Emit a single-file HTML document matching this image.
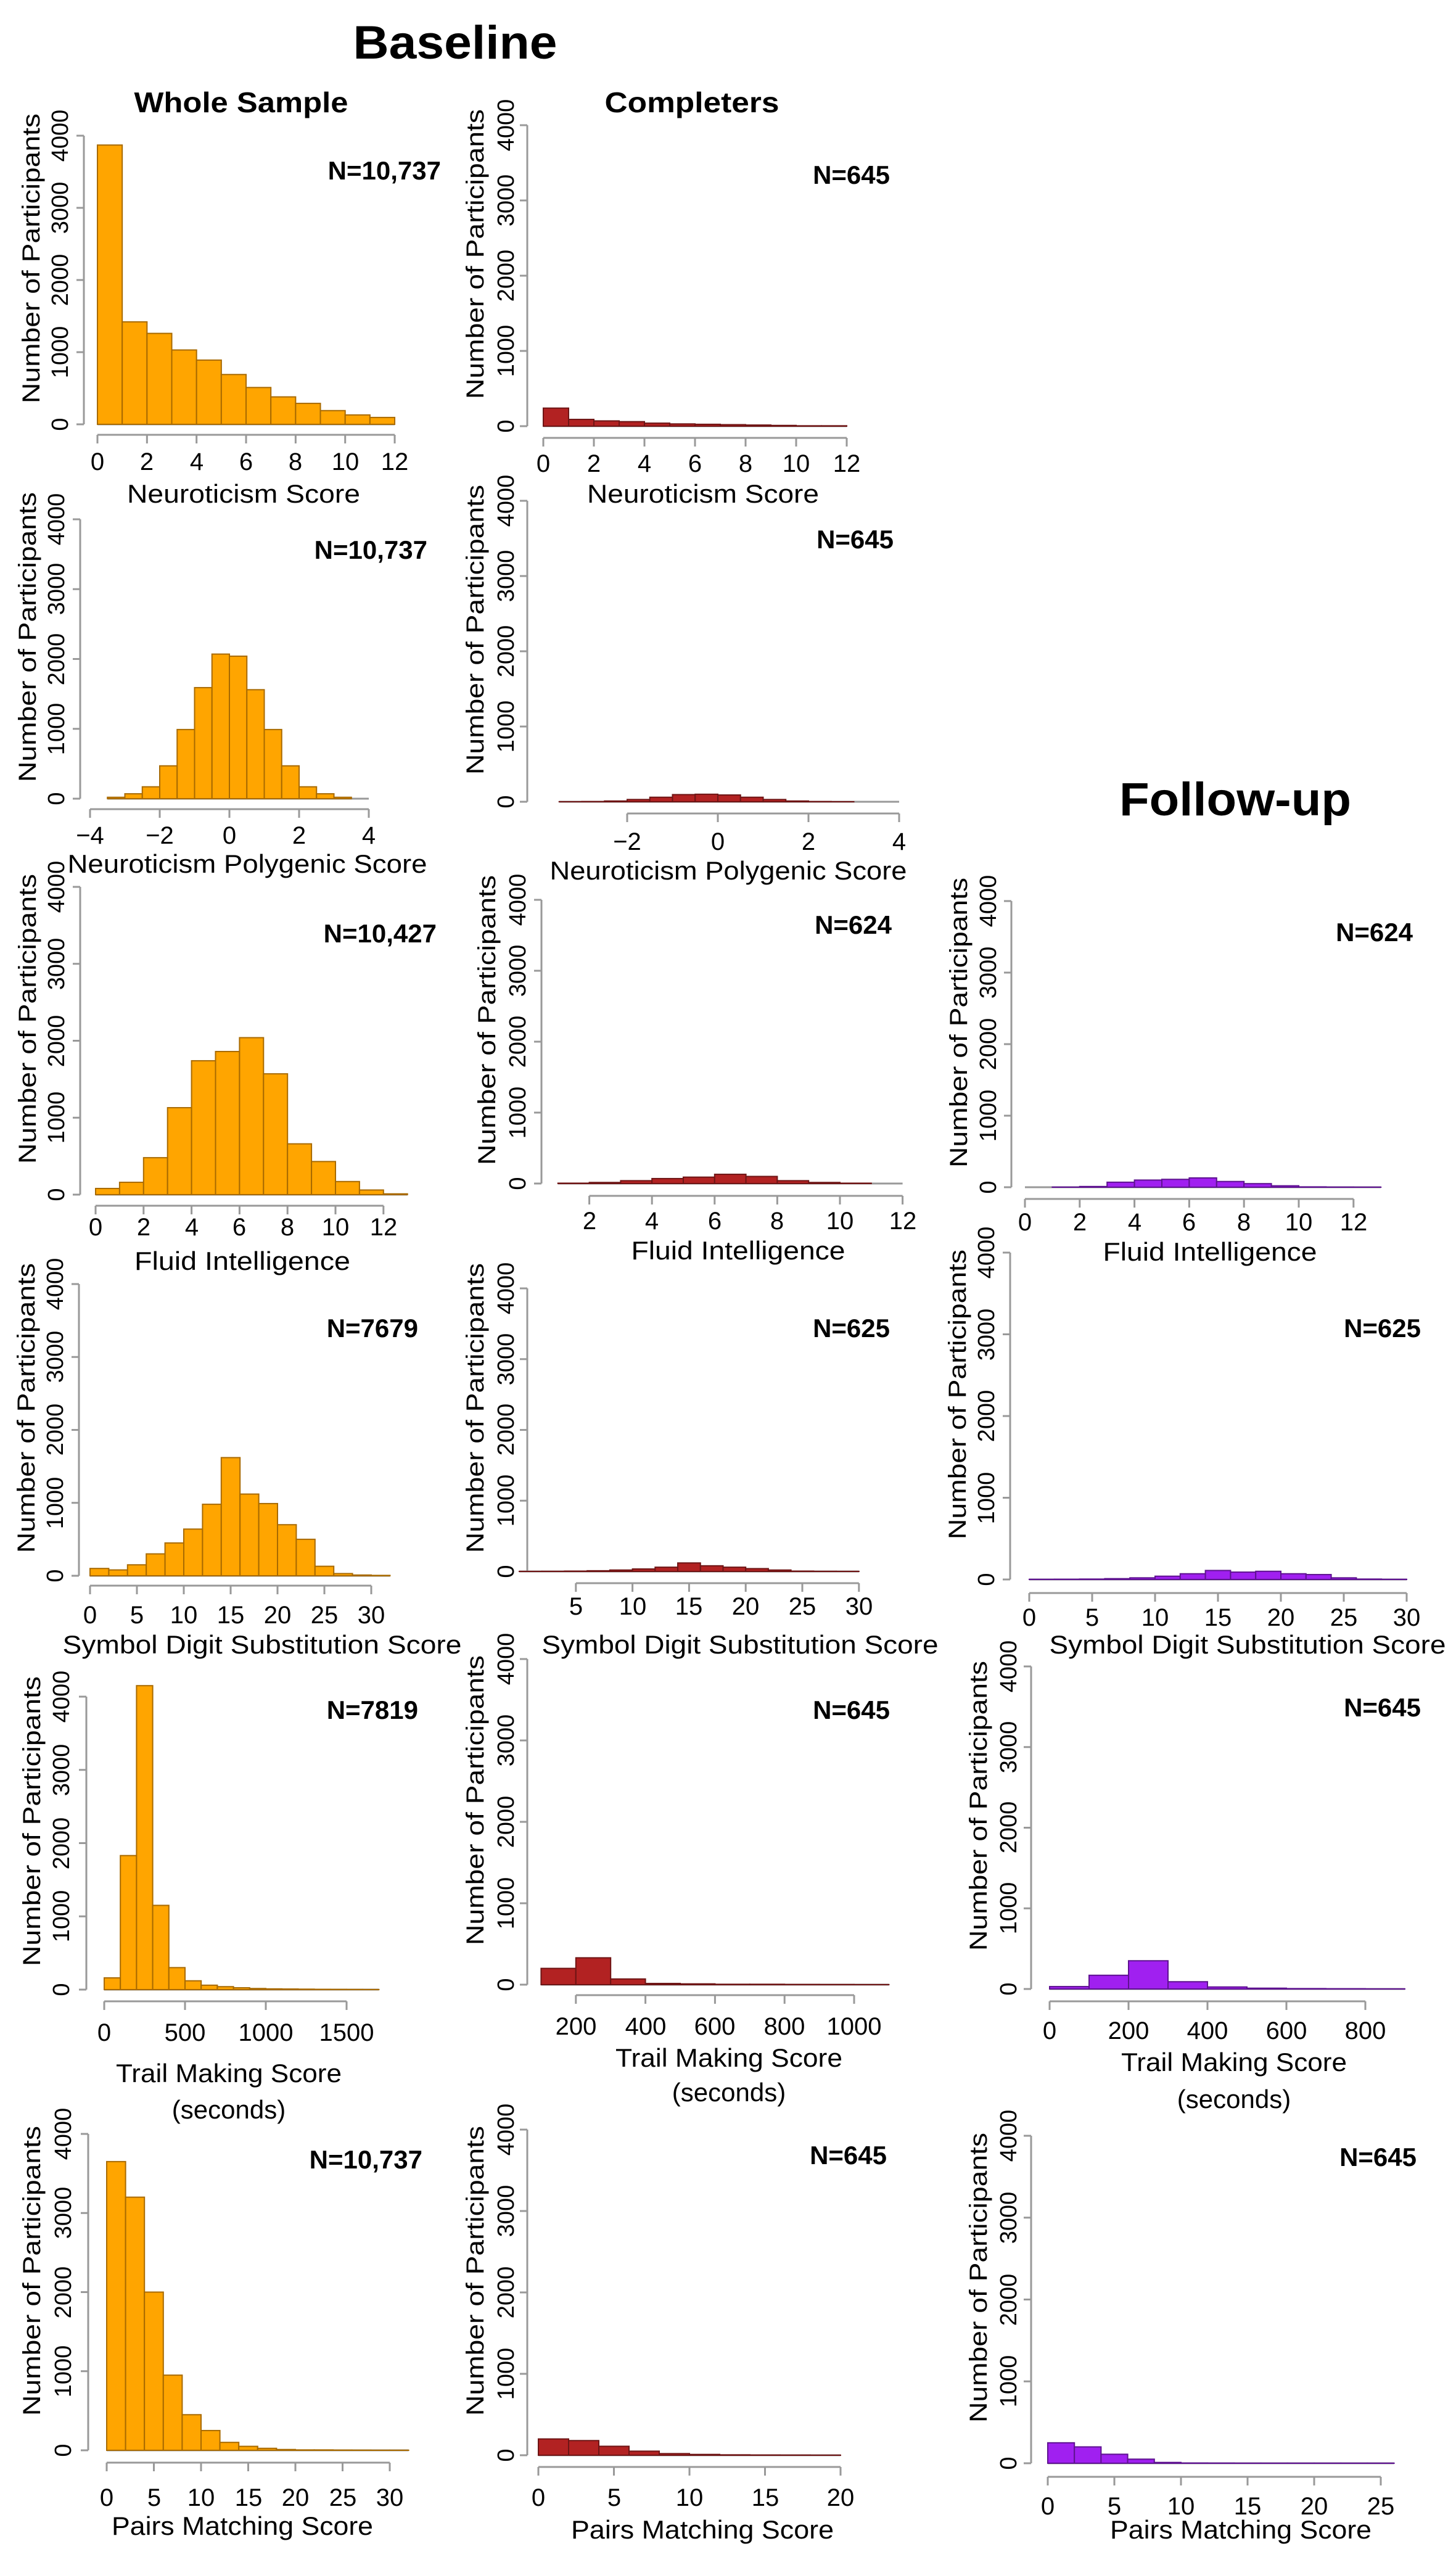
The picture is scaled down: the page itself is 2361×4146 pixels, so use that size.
<!DOCTYPE html>
<html><head><meta charset="utf-8"><style>
html,body{margin:0;padding:0;background:#fff}
svg{display:block}
text{font-family:"Liberation Sans",sans-serif;fill:#000}
.yt{font-size:38px;text-anchor:middle;dominant-baseline:central}
.xt{font-size:40px;text-anchor:middle}
.xl{font-size:42px;text-anchor:middle}
.yl{font-size:40px;text-anchor:middle;dominant-baseline:central}
.n{font-size:42px;font-weight:bold;text-anchor:end}
.t{font-weight:bold;text-anchor:middle}
</style></head><body>
<svg id="s" width="2361" height="4146" viewBox="0 0 2361 4146" xmlns="http://www.w3.org/2000/svg">
<g id="g"></g>
<text class="t" x="738" y="95" font-size="76" textLength="331" lengthAdjust="spacingAndGlyphs">Baseline</text>
<text class="t" x="391" y="182" font-size="46" textLength="347" lengthAdjust="spacingAndGlyphs">Whole Sample</text>
<text class="t" x="1122" y="182" font-size="46" textLength="283" lengthAdjust="spacingAndGlyphs">Completers</text>
<text class="t" x="2003" y="1322" font-size="76" textLength="376" lengthAdjust="spacingAndGlyphs">Follow-up</text>

<!-- P1 -->
<text class="yl" transform="translate(51,419) rotate(-90)" textLength="470" lengthAdjust="spacingAndGlyphs">Number of Participants</text>
<text class="yt" transform="translate(98,688) rotate(-90)">0</text><text class="yt" transform="translate(98,571) rotate(-90)">1000</text><text class="yt" transform="translate(98,454) rotate(-90)">2000</text><text class="yt" transform="translate(98,337) rotate(-90)">3000</text><text class="yt" transform="translate(98,220) rotate(-90)">4000</text>
<text class="xt" x="158" y="762">0</text><text class="xt" x="238" y="762">2</text><text class="xt" x="319" y="762">4</text><text class="xt" x="399" y="762">6</text><text class="xt" x="479" y="762">8</text><text class="xt" x="560" y="762">10</text><text class="xt" x="640" y="762">12</text>
<text class="xl" x="395" y="815" textLength="378" lengthAdjust="spacingAndGlyphs">Neuroticism Score</text>
<text class="n" x="715" y="291">N=10,737</text>
<!-- P2 -->
<text class="yl" transform="translate(771,412) rotate(-90)" textLength="470" lengthAdjust="spacingAndGlyphs">Number of Participants</text>
<text class="yt" transform="translate(821,691) rotate(-90)">0</text><text class="yt" transform="translate(821,569) rotate(-90)">1000</text><text class="yt" transform="translate(821,447) rotate(-90)">2000</text><text class="yt" transform="translate(821,325) rotate(-90)">3000</text><text class="yt" transform="translate(821,203) rotate(-90)">4000</text>
<text class="xt" x="881" y="765">0</text><text class="xt" x="963" y="765">2</text><text class="xt" x="1045" y="765">4</text><text class="xt" x="1127" y="765">6</text><text class="xt" x="1209" y="765">8</text><text class="xt" x="1291" y="765">10</text><text class="xt" x="1373" y="765">12</text>
<text class="xl" x="1140" y="815" textLength="376" lengthAdjust="spacingAndGlyphs">Neuroticism Score</text>
<text class="n" x="1443" y="298">N=645</text>
<!-- P3 -->
<text class="yl" transform="translate(45,1033) rotate(-90)" textLength="470" lengthAdjust="spacingAndGlyphs">Number of Participants</text>
<text class="yt" transform="translate(92,1295) rotate(-90)">0</text><text class="yt" transform="translate(92,1182) rotate(-90)">1000</text><text class="yt" transform="translate(92,1069) rotate(-90)">2000</text><text class="yt" transform="translate(92,955) rotate(-90)">3000</text><text class="yt" transform="translate(92,842) rotate(-90)">4000</text>
<text class="xt" x="146" y="1368">−4</text><text class="xt" x="259" y="1368">−2</text><text class="xt" x="372" y="1368">0</text><text class="xt" x="485" y="1368">2</text><text class="xt" x="598" y="1368">4</text>
<text class="xl" x="401" y="1415" textLength="583" lengthAdjust="spacingAndGlyphs">Neuroticism Polygenic Score</text>
<text class="n" x="693" y="906">N=10,737</text>
<!-- P4 -->
<text class="yl" transform="translate(771,1021) rotate(-90)" textLength="470" lengthAdjust="spacingAndGlyphs">Number of Participants</text>
<text class="yt" transform="translate(821,1300) rotate(-90)">0</text><text class="yt" transform="translate(821,1178) rotate(-90)">1000</text><text class="yt" transform="translate(821,1056) rotate(-90)">2000</text><text class="yt" transform="translate(821,934) rotate(-90)">3000</text><text class="yt" transform="translate(821,812) rotate(-90)">4000</text>
<text class="xt" x="1017" y="1378">−2</text><text class="xt" x="1164" y="1378">0</text><text class="xt" x="1311" y="1378">2</text><text class="xt" x="1458" y="1378">4</text>
<text class="xl" x="1181" y="1426" textLength="579" lengthAdjust="spacingAndGlyphs">Neuroticism Polygenic Score</text>
<text class="n" x="1449" y="889">N=645</text>
<!-- P5 -->
<text class="yl" transform="translate(45,1652) rotate(-90)" textLength="470" lengthAdjust="spacingAndGlyphs">Number of Participants</text>
<text class="yt" transform="translate(92,1937) rotate(-90)">0</text><text class="yt" transform="translate(92,1812) rotate(-90)">1000</text><text class="yt" transform="translate(92,1688) rotate(-90)">2000</text><text class="yt" transform="translate(92,1563) rotate(-90)">3000</text><text class="yt" transform="translate(92,1438) rotate(-90)">4000</text>
<text class="xt" x="155" y="2003">0</text><text class="xt" x="233" y="2003">2</text><text class="xt" x="311" y="2003">4</text><text class="xt" x="388" y="2003">6</text><text class="xt" x="466" y="2003">8</text><text class="xt" x="544" y="2003">10</text><text class="xt" x="622" y="2003">12</text>
<text class="xl" x="393" y="2059" textLength="350" lengthAdjust="spacingAndGlyphs">Fluid Intelligence</text>
<text class="n" x="708" y="1528">N=10,427</text>
<!-- P6 -->
<text class="yl" transform="translate(790,1654) rotate(-90)" textLength="470" lengthAdjust="spacingAndGlyphs">Number of Participants</text>
<text class="yt" transform="translate(840,1919) rotate(-90)">0</text><text class="yt" transform="translate(840,1804) rotate(-90)">1000</text><text class="yt" transform="translate(840,1689) rotate(-90)">2000</text><text class="yt" transform="translate(840,1574) rotate(-90)">3000</text><text class="yt" transform="translate(840,1459) rotate(-90)">4000</text>
<text class="xt" x="956" y="1993">2</text><text class="xt" x="1057" y="1993">4</text><text class="xt" x="1159" y="1993">6</text><text class="xt" x="1260" y="1993">8</text><text class="xt" x="1362" y="1993">10</text><text class="xt" x="1464" y="1993">12</text>
<text class="xl" x="1197" y="2042" textLength="347" lengthAdjust="spacingAndGlyphs">Fluid Intelligence</text>
<text class="n" x="1446" y="1514">N=624</text>
<!-- P7 -->
<text class="yl" transform="translate(1555,1658) rotate(-90)" textLength="470" lengthAdjust="spacingAndGlyphs">Number of Participants</text>
<text class="yt" transform="translate(1603,1925) rotate(-90)">0</text><text class="yt" transform="translate(1603,1809) rotate(-90)">1000</text><text class="yt" transform="translate(1603,1693) rotate(-90)">2000</text><text class="yt" transform="translate(1603,1577) rotate(-90)">3000</text><text class="yt" transform="translate(1603,1461) rotate(-90)">4000</text>
<text class="xt" x="1662" y="1995">0</text><text class="xt" x="1751" y="1995">2</text><text class="xt" x="1840" y="1995">4</text><text class="xt" x="1928" y="1995">6</text><text class="xt" x="2017" y="1995">8</text><text class="xt" x="2106" y="1995">10</text><text class="xt" x="2195" y="1995">12</text>
<text class="xl" x="1962" y="2044" textLength="347" lengthAdjust="spacingAndGlyphs">Fluid Intelligence</text>
<text class="n" x="2291" y="1526">N=624</text>
<!-- P8 -->
<text class="yl" transform="translate(43,2283) rotate(-90)" textLength="470" lengthAdjust="spacingAndGlyphs">Number of Participants</text>
<text class="yt" transform="translate(90,2555) rotate(-90)">0</text><text class="yt" transform="translate(90,2437) rotate(-90)">1000</text><text class="yt" transform="translate(90,2318) rotate(-90)">2000</text><text class="yt" transform="translate(90,2200) rotate(-90)">3000</text><text class="yt" transform="translate(90,2082) rotate(-90)">4000</text>
<text class="xt" x="146" y="2632">0</text><text class="xt" x="222" y="2632">5</text><text class="xt" x="298" y="2632">10</text><text class="xt" x="374" y="2632">15</text><text class="xt" x="450" y="2632">20</text><text class="xt" x="526" y="2632">25</text><text class="xt" x="602" y="2632">30</text>
<text class="xl" x="425" y="2681" textLength="647" lengthAdjust="spacingAndGlyphs">Symbol Digit Substitution Score</text>
<text class="n" x="678" y="2168">N=7679</text>
<!-- P9 -->
<text class="yl" transform="translate(771,2283) rotate(-90)" textLength="470" lengthAdjust="spacingAndGlyphs">Number of Participants</text>
<text class="yt" transform="translate(821,2548) rotate(-90)">0</text><text class="yt" transform="translate(821,2433) rotate(-90)">1000</text><text class="yt" transform="translate(821,2318) rotate(-90)">2000</text><text class="yt" transform="translate(821,2204) rotate(-90)">3000</text><text class="yt" transform="translate(821,2089) rotate(-90)">4000</text>
<text class="xt" x="934" y="2618">5</text><text class="xt" x="1026" y="2618">10</text><text class="xt" x="1117" y="2618">15</text><text class="xt" x="1209" y="2618">20</text><text class="xt" x="1301" y="2618">25</text><text class="xt" x="1393" y="2618">30</text>
<text class="xl" x="1200" y="2681" textLength="643" lengthAdjust="spacingAndGlyphs">Symbol Digit Substitution Score</text>
<text class="n" x="1443" y="2168">N=625</text>
<!-- P10 -->
<text class="yl" transform="translate(1553,2261) rotate(-90)" textLength="470" lengthAdjust="spacingAndGlyphs">Number of Participants</text>
<text class="yt" transform="translate(1600,2561) rotate(-90)">0</text><text class="yt" transform="translate(1600,2429) rotate(-90)">1000</text><text class="yt" transform="translate(1600,2296) rotate(-90)">2000</text><text class="yt" transform="translate(1600,2164) rotate(-90)">3000</text><text class="yt" transform="translate(1600,2031) rotate(-90)">4000</text>
<text class="xt" x="1669" y="2636">0</text><text class="xt" x="1771" y="2636">5</text><text class="xt" x="1873" y="2636">10</text><text class="xt" x="1975" y="2636">15</text><text class="xt" x="2077" y="2636">20</text><text class="xt" x="2179" y="2636">25</text><text class="xt" x="2281" y="2636">30</text>
<text class="xl" x="2023" y="2681" textLength="643" lengthAdjust="spacingAndGlyphs">Symbol Digit Substitution Score</text>
<text class="n" x="2304" y="2168">N=625</text>
<!-- P11 -->
<text class="yl" transform="translate(52,2953) rotate(-90)" textLength="470" lengthAdjust="spacingAndGlyphs">Number of Participants</text>
<text class="yt" transform="translate(100,3226) rotate(-90)">0</text><text class="yt" transform="translate(100,3107) rotate(-90)">1000</text><text class="yt" transform="translate(100,2989) rotate(-90)">2000</text><text class="yt" transform="translate(100,2870) rotate(-90)">3000</text><text class="yt" transform="translate(100,2751) rotate(-90)">4000</text>
<text class="xt" x="169" y="3309">0</text><text class="xt" x="300" y="3309">500</text><text class="xt" x="431" y="3309">1000</text><text class="xt" x="562" y="3309">1500</text>
<text class="xl" x="371" y="3376" textLength="366" lengthAdjust="spacingAndGlyphs">Trail Making Score</text>
<text class="xl" x="371" y="3435">(seconds)</text>
<text class="n" x="678" y="2787">N=7819</text>
<!-- P12 -->
<text class="yl" transform="translate(771,2919) rotate(-90)" textLength="470" lengthAdjust="spacingAndGlyphs">Number of Participants</text>
<text class="yt" transform="translate(821,3218) rotate(-90)">0</text><text class="yt" transform="translate(821,3086) rotate(-90)">1000</text><text class="yt" transform="translate(821,2954) rotate(-90)">2000</text><text class="yt" transform="translate(821,2822) rotate(-90)">3000</text><text class="yt" transform="translate(821,2690) rotate(-90)">4000</text>
<text class="xt" x="934" y="3299">200</text><text class="xt" x="1047" y="3299">400</text><text class="xt" x="1159" y="3299">600</text><text class="xt" x="1272" y="3299">800</text><text class="xt" x="1385" y="3299">1000</text>
<text class="xl" x="1182" y="3351" textLength="368" lengthAdjust="spacingAndGlyphs">Trail Making Score</text>
<text class="xl" x="1182" y="3407">(seconds)</text>
<text class="n" x="1443" y="2787">N=645</text>
<!-- P13 -->
<text class="yl" transform="translate(1587,2928) rotate(-90)" textLength="470" lengthAdjust="spacingAndGlyphs">Number of Participants</text>
<text class="yt" transform="translate(1636,3225) rotate(-90)">0</text><text class="yt" transform="translate(1636,3094) rotate(-90)">1000</text><text class="yt" transform="translate(1636,2963) rotate(-90)">2000</text><text class="yt" transform="translate(1636,2833) rotate(-90)">3000</text><text class="yt" transform="translate(1636,2702) rotate(-90)">4000</text>
<text class="xt" x="1702" y="3306">0</text><text class="xt" x="1830" y="3306">200</text><text class="xt" x="1958" y="3306">400</text><text class="xt" x="2086" y="3306">600</text><text class="xt" x="2214" y="3306">800</text>
<text class="xl" x="2001" y="3358" textLength="366" lengthAdjust="spacingAndGlyphs">Trail Making Score</text>
<text class="xl" x="2001" y="3418">(seconds)</text>
<text class="n" x="2304" y="2783">N=645</text>
<!-- P14 -->
<text class="yl" transform="translate(52,3682) rotate(-90)" textLength="470" lengthAdjust="spacingAndGlyphs">Number of Participants</text>
<text class="yt" transform="translate(103,3973) rotate(-90)">0</text><text class="yt" transform="translate(103,3845) rotate(-90)">1000</text><text class="yt" transform="translate(103,3717) rotate(-90)">2000</text><text class="yt" transform="translate(103,3588) rotate(-90)">3000</text><text class="yt" transform="translate(103,3460) rotate(-90)">4000</text>
<text class="xt" x="173" y="4063">0</text><text class="xt" x="250" y="4063">5</text><text class="xt" x="326" y="4063">10</text><text class="xt" x="403" y="4063">15</text><text class="xt" x="479" y="4063">20</text><text class="xt" x="556" y="4063">25</text><text class="xt" x="632" y="4063">30</text>
<text class="xl" x="393" y="4110" textLength="424" lengthAdjust="spacingAndGlyphs">Pairs Matching Score</text>
<text class="n" x="685" y="3516">N=10,737</text>
<!-- P15 -->
<text class="yl" transform="translate(771,3682) rotate(-90)" textLength="470" lengthAdjust="spacingAndGlyphs">Number of Participants</text>
<text class="yt" transform="translate(821,3981) rotate(-90)">0</text><text class="yt" transform="translate(821,3849) rotate(-90)">1000</text><text class="yt" transform="translate(821,3717) rotate(-90)">2000</text><text class="yt" transform="translate(821,3585) rotate(-90)">3000</text><text class="yt" transform="translate(821,3453) rotate(-90)">4000</text>
<text class="xt" x="873" y="4063">0</text><text class="xt" x="996" y="4063">5</text><text class="xt" x="1118" y="4063">10</text><text class="xt" x="1241" y="4063">15</text><text class="xt" x="1363" y="4063">20</text>
<text class="xl" x="1139" y="4116" textLength="426" lengthAdjust="spacingAndGlyphs">Pairs Matching Score</text>
<text class="n" x="1438" y="3509">N=645</text>
<!-- P16 -->
<text class="yl" transform="translate(1587,3693) rotate(-90)" textLength="470" lengthAdjust="spacingAndGlyphs">Number of Participants</text>
<text class="yt" transform="translate(1636,3994) rotate(-90)">0</text><text class="yt" transform="translate(1636,3861) rotate(-90)">1000</text><text class="yt" transform="translate(1636,3729) rotate(-90)">2000</text><text class="yt" transform="translate(1636,3596) rotate(-90)">3000</text><text class="yt" transform="translate(1636,3463) rotate(-90)">4000</text>
<text class="xt" x="1699" y="4077">0</text><text class="xt" x="1807" y="4077">5</text><text class="xt" x="1915" y="4077">10</text><text class="xt" x="2023" y="4077">15</text><text class="xt" x="2131" y="4077">20</text><text class="xt" x="2239" y="4077">25</text>
<text class="xl" x="2012" y="4116" textLength="424" lengthAdjust="spacingAndGlyphs">Pairs Matching Score</text>
<text class="n" x="2297" y="3512">N=645</text>
</svg>
<script>
(function(){
var O=["#FFA500","#A86A00"],R=["#B22222","#6E1515"],P=["#A020F0","#5E1290"];
var panels=[
[136,220,688,705,158,40.17,0,1,[3870,1420,1260,1030,890,690,510,380,290,190,130,95],O,0,12,2,12],
[855,203,691,710,881,41,0,1,[240,90,70,60,40,30,25,20,15,10,5,5],R,0,12,2,12],
[130,842,1295,1312,372,56.5,-3.5,0.5,[20,70,170,470,990,1590,2070,2040,1560,990,470,170,70,20],O,-4,4,2,4],
[855,812,1300,1319,1164,73.5,-3.5,0.5,[1,3,10,30,60,95,100,90,60,30,10,3,1,0],R,-2,4,2,4],
[130,1438,1937,1955,155,38.9,0,1,[80,160,480,1130,1740,1860,2040,1570,660,430,170,60,10],O,0,12,2,13],
[878,1459,1919,1939,854,50.8,1,1,[5,15,40,70,90,130,100,40,15,5],R,2,12,2,12],
[1640,1461,1925,1944,1662,44.4,0,1,[0,2,10,70,100,110,130,80,50,20,5,2,1],P,0,12,2,13],
[128,2082,2555,2571,146,15.2,0,2,[100,80,150,300,450,640,980,1620,1120,990,700,500,130,30,10,5],O,0,30,5,32],
[855,2089,2548,2567,842,18.36,0,2,[1,2,5,10,20,35,60,120,80,60,40,20,5,2,1],R,5,30,5,30],
[1638,2031,2561,2583,1669,20.4,0,2,[2,3,5,10,20,40,70,110,90,100,70,60,20,5,2],P,0,30,5,30],
[140,2751,3226,3245,169,0.262,0,100,[160,1830,4150,1150,300,120,60,40,25,15,10,8,6,4,3,2,1],O,0,1500,500,1700],
[855,2690,3218,3235,821,0.564,100,100,[200,330,70,15,10,5,5,3,2,1],R,200,1000,200,1100],
[1672,2702,3225,3245,1702,0.64,0,100,[30,170,350,90,25,10,5,3,1],P,0,800,200,900],
[143,3460,3973,3993,173,15.3,0,2,[3650,3200,2000,950,450,250,100,50,25,10,5,5,3,2,1,1],O,0,30,5,32],
[855,3453,3981,4000,873,24.5,0,2,[200,180,110,50,20,10,5,3,2,1],R,0,20,5,20],
[1672,3463,3994,4016,1699,21.6,0,2,[250,200,110,50,10,3,2,1,1,1,1,1,1],P,0,25,5,26]
];
var s="";
panels.forEach(function(p){
 var ax=p[0],y4=p[1],y0=p[2],xa=p[3],z=p[4],u=p[5],bs=p[6],bw=p[7],h=p[8],c=p[9];
 var sc=(y0-y4)/4000;
 s+='<line x1="'+ax+'" y1="'+y0+'" x2="'+ax+'" y2="'+y4+'" stroke="#999" stroke-width="3"/>';
 for(var k=0;k<=4;k++){var yy=y0-k*(y0-y4)/4;s+='<line x1="'+(ax-12)+'" y1="'+yy+'" x2="'+ax+'" y2="'+yy+'" stroke="#999" stroke-width="3"/>';}
 var xs=z+p[10]*u,xe=z+p[11]*u;
 s+='<line x1="'+xs+'" y1="'+xa+'" x2="'+xe+'" y2="'+xa+'" stroke="#999" stroke-width="3"/>';
 for(var v=p[10];v<=p[11]+1e-9;v+=p[12]){var xx=z+v*u;s+='<line x1="'+xx+'" y1="'+xa+'" x2="'+xx+'" y2="'+(xa+14)+'" stroke="#999" stroke-width="3"/>';}
 s+='<line x1="'+(z+bs*u)+'" y1="'+y0+'" x2="'+(z+p[13]*u)+'" y2="'+y0+'" stroke="#999" stroke-width="3"/>';
 for(var i=0;i<h.length;i++){
  var x=z+(bs+i*bw)*u,w=bw*u,hh=h[i]*sc;
  if(hh<=0)continue;
  s+='<rect x="'+x+'" y="'+(y0-hh)+'" width="'+w+'" height="'+hh+'" fill="'+c[0]+'" stroke="'+c[1]+'" stroke-width="2"/>';
 }
});
document.getElementById("g").innerHTML=s;
})();
</script>
</body></html>
